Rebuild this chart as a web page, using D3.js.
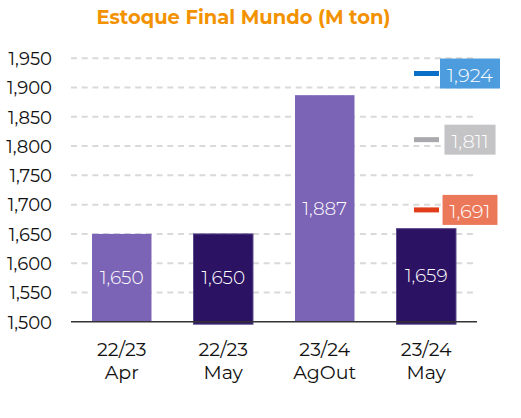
<!DOCTYPE html>
<html><head><meta charset="utf-8">
<script src="https://cdn.jsdelivr.net/npm/d3@7"></script>
<style>
html,body{margin:0;padding:0;background:#fff;}
svg text{font-family:"Montserrat","Inter","Noto Sans",sans-serif;}
</style></head>
<body><svg id="c" width="521" height="418"></svg>
<script>
const categories = [["22/23","Apr"],["22/23","May"],["23/24","AgOut"],["23/24","May"]];
const values = [1650, 1650, 1887, 1659];
const barColors = ["#7B63B5", "#2C1262", "#7B63B5", "#2C1262"];
const markerValues = [1924, 1811, 1691];
const markerLineColors = ["#0A6FC9", "#A9A9AD", "#E23D1B"];
const markerBoxColors = ["#4D9CDD", "#C4C4C7", "#EC785A"];
const yTicks = [1500,1550,1600,1650,1700,1750,1800,1850,1900,1950];
const title = "Estoque Final Mundo (M ton)";

const svg = d3.select("#c");
const pL = 71, pR = 477, pT = 58.3, pB = 321.7;
const fmt = d3.format(",");
const x = d3.scaleBand().domain(d3.range(categories.length)).range([pL, pR]).paddingInner(0.414).paddingOuter(0.207);
const y = d3.scaleLinear().domain([1500, 1950]).range([pB, pT]);

svg.append("text").attr("x", 243.5).attr("y", 24).attr("text-anchor","middle")
  .attr("fill","#F39200").attr("font-weight",700).attr("font-size",19.5).text(title);

// grid
svg.append("g").selectAll("line").data(yTicks.filter(t=>t>1500)).join("line")
  .attr("x1", pL).attr("x2", pR).attr("y1", d=>y(d)).attr("y2", d=>y(d))
  .attr("stroke","#D9D9D9").attr("stroke-width",2).attr("stroke-dasharray","6,4.7");

// y axis labels
const yAxis = d3.axisLeft(y).tickValues(yTicks).tickFormat(fmt).tickSize(0).tickPadding(0);
const yg = svg.append("g").attr("transform",`translate(52,0)`).call(yAxis);
yg.select(".domain").remove();
yg.selectAll("text").attr("font-size",18).attr("fill","#111").attr("font-weight",400).attr("dy","0.35em")
  .style("font-family",'"Montserrat","Inter","Noto Sans",sans-serif');

// bars
svg.append("g").selectAll("rect").data(values).join("rect")
  .attr("x",(d,i)=>x(i)).attr("width",x.bandwidth())
  .attr("y",d=>y(d)).attr("height",(d,i)=>pB - y(d) + (i%2 ? 2.5 : 0))
  .attr("fill",(d,i)=>barColors[i])
  .attr("stroke",(d,i)=> i%2 ? "#5B4A8E" : "none").attr("stroke-width",1);

// baseline
svg.append("line").attr("x1",pL).attr("x2",pR).attr("y1",pB).attr("y2",pB)
  .attr("stroke","#333").attr("stroke-width",1.6);

// bar labels
svg.append("g").selectAll("text").data(values).join("text")
  .attr("x",(d,i)=>x(i)+x.bandwidth()/2).attr("y",d=>(y(d)+pB)/2).attr("dy","0.35em")
  .attr("text-anchor","middle").attr("fill","#fff").attr("font-size",18.5).attr("font-weight",300)
  .text(d=>fmt(d));

// x labels
const xg = svg.append("g");
categories.forEach((c,i)=>{
  const cx = x(i)+x.bandwidth()/2;
  const t = xg.append("text").attr("x",cx).attr("text-anchor","middle")
    .attr("font-size",19).attr("fill","#111").attr("font-weight",400);
  t.append("tspan").attr("x",cx).attr("y",355.5).text(c[0]);
  t.append("tspan").attr("x",cx).attr("y",379).text(c[1]);
});

// markers
const mg = svg.append("g");
markerValues.forEach((v,i)=>{
  mg.append("line").attr("x1",414).attr("x2",439).attr("y1",y(v)).attr("y2",y(v))
    .attr("stroke",markerLineColors[i]).attr("stroke-width",5);
  const box = mg.append("rect").attr("fill",markerBoxColors[i]);
  const t = mg.append("text").attr("x",470).attr("y",y(v)+1.5).attr("dy","0.35em").attr("text-anchor","middle")
    .attr("fill","#fff").attr("font-size",19.5).attr("font-weight",300).text(fmt(v));
  const bb = t.node().getBBox();
  const w = Math.max(bb.width + 14, 51);
  box.attr("x",470 - w/2).attr("width",w).attr("y",y(v)-15).attr("height",30);
});
</script></body></html>
